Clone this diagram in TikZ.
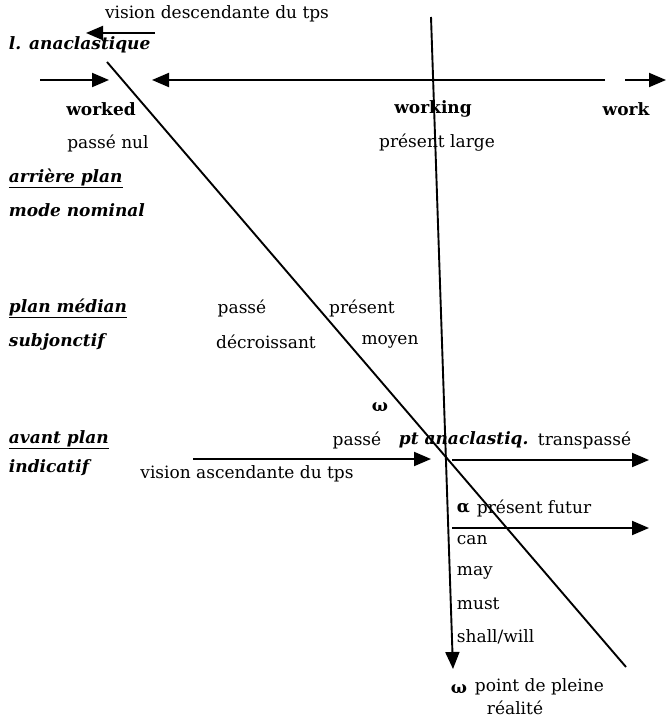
\documentclass[tikz,border=0pt]{standalone}
\usepackage{fontspec}
\setmainfont{DejaVu Serif}
\usetikzlibrary{arrows.meta}

\begin{document}
\begin{tikzpicture}[x=1pt, y=-1pt, line width=1.9pt, ->,
        >={Triangle[length=17pt, width=14pt]},
        nodes={inner sep=0pt, font=\fontsize{17}{19}\selectfont},
        term/.style={font=\fontsize{17}{19}\selectfont\bfseries},
        plan/.style={anchor=west, font=\fontsize{17}{19}\selectfont\bfseries\itshape}]
        \useasboundingbox (0,0) rectangle (666,719);
        % en haut
        \node (desc) at (217,14) {vision descendante du tps};
        \coordinate (descA) at (155,33);
        \coordinate (descB) at (86,33);
        \draw (descA) -- (descB);
        \node[plan] (lana) at (8,45) {l. anaclastique};
        \coordinate (rowA) at (40,80);
        \coordinate (rowB) at (109,80);
        \coordinate (rowC) at (605,80);
        \coordinate (rowD) at (152,80);
        \coordinate (rowE) at (625,80);
        \coordinate (rowF) at (666,80);
        \draw (rowA) -- (rowB);
        \draw (rowC) -- (rowD);
        \draw (rowE) -- (rowF);
        \node[term] (worked) at (101,109) {worked};
        \node[term] (working) at (433,109) {working};
        \node[term] (work) at (626,109) {work};
        \node (nul) at (108,143) {passé nul};
        \node (large) at (437,143) {présent large};
        % plans
        \node[plan] (arriere) at (8,178) {\underline{arrière plan}};
        \node[plan] (nominal) at (8,210) {mode nominal};
        \node[plan] (median) at (8,308) {\underline{plan médian}};
        \node[plan] (subj) at (8,342) {subjonctif};
        \node[plan] (avant) at (8,440) {\underline{avant plan}};
        \node[plan] (indic) at (8,468) {indicatif};
        \node (passeA) at (242,308) {passé};
        \node (present) at (362,308) {présent};
        \node (decr) at (266,342) {décroissant};
        \node (moyen) at (390,342) {moyen};
        \node[term] (omegaA) at (380,407) {ω};
        \node (passeB) at (357,440) {passé};
        \node[plan] (ptana) at (398,440) {pt anaclastiq.};
        \node[anchor=west] (trans) at (537,440) {transpassé};
        \node (asc) at (247,474) {vision ascendante du tps};
        \coordinate (ascA) at (193,459);
        \coordinate (ascB) at (431,459);
        \draw (ascA) -- (ascB);
        \coordinate (transA) at (452,460);
        \coordinate (transB) at (649,460);
        \draw (transA) -- (transB);
        \node[term, anchor=west] (alpha) at (456,508) {α};
        \node[anchor=west] (futur) at (476,508) {présent futur};
        \coordinate (futA) at (452,528);
        \coordinate (futB) at (649,528);
        \draw (futA) -- (futB);
        \node[anchor=west] (can) at (456,540) {can};
        \node[anchor=west] (may) at (456,573) {may};
        \node[anchor=west] (must) at (456,604) {must};
        \node[anchor=west] (shall) at (456,637) {shall/will};
        \node[term, anchor=west] (omegaB) at (450,689) {ω};
        \node[anchor=west] (pleine) at (474,687) {point de pleine};
        \node (realite) at (515,708) {réalité};
        % les deux axes
        \coordinate (diagA) at (107,62);
        \coordinate (diagB) at (626,667);
        \draw[-] (diagA) -- (diagB);
        \coordinate (vertA) at (431,17);
        \coordinate (vertB) at (453,669);
        \draw (vertA) -- (vertB);
\end{tikzpicture}
\end{document}
